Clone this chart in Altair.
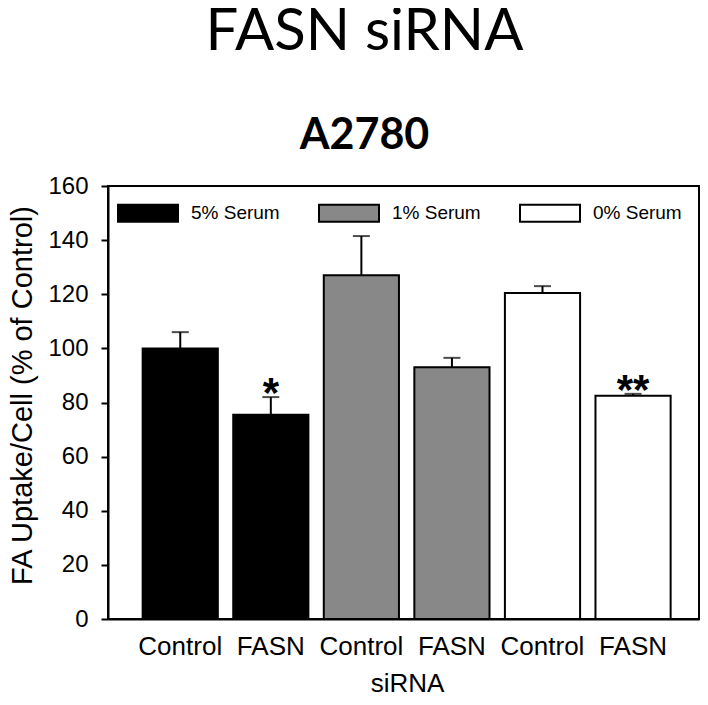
import altair as alt
import pandas as pd

# ---- data ----
sirna = ["Control", "FASN", "Control", "FASN", "Control", "FASN"]
serum = ["5% Serum", "5% Serum", "1% Serum", "1% Serum", "0% Serum", "0% Serum"]
uptake = [100, 75.5, 127, 93, 120.5, 82.5]
sem = [6, 6.5, 14.5, 3.5, 2.5, 0.7]
stars = ["", "*", "", "", "", "**"]

serum_order = ["5% Serum", "1% Serum", "0% Serum"]
serum_colors = ["#000000", "#888888", "#ffffff"]

df = pd.DataFrame({
    "key": [f"{s}|{i}" for i, s in enumerate(sirna)],
    "siRNA": sirna,
    "serum": serum,
    "uptake": uptake,
    "top": [u + e for u, e in zip(uptake, sem)],
    "star": stars,
})
order = list(df["key"])

LABEL_FONT = "Liberation Sans"

x = alt.X("key:N", sort=order,
          scale=alt.Scale(paddingInner=0.17, paddingOuter=0.348, align=0.55),
          axis=alt.Axis(title="siRNA", labelExpr="split(datum.label, '|')[0]",
                        labelAngle=0, ticks=False, labelPadding=14,
                        labelFontSize=26, labelFont=LABEL_FONT, labelColor="black",
                        titleFontSize=26, titleFont=LABEL_FONT, titleFontWeight="normal",
                        titleColor="black", titleX=299, titleY=64, titleBaseline="middle",
                        domainColor="black", domainWidth=2))

y_scale = alt.Scale(domain=[0, 160])

bars = alt.Chart(df).mark_bar(stroke="black", strokeWidth=2).encode(
    x=x,
    y=alt.Y("uptake:Q", scale=y_scale,
            axis=alt.Axis(title="FA Uptake/Cell (% of Control)", values=list(range(0, 161, 20)),
                          grid=False, tickSize=7, tickWidth=2, tickColor="black",
                          labelPadding=13, labelFontSize=24, labelFont=LABEL_FONT,
                          labelColor="black", domainColor="black", domainWidth=2,
                          titleFontSize=29, titleFont=LABEL_FONT, titleFontWeight="normal",
                          titleColor="black", titleX=-86, titleY=209,
                          titleBaseline="middle", titleAlign="center", titleAngle=270)),
    fill=alt.Fill("serum:N", sort=serum_order,
                  scale=alt.Scale(domain=serum_order, range=serum_colors),
                  legend=alt.Legend(title=None, orient="none", legendX=9, legendY=-4,
                                    direction="horizontal", columns=3, padding=0,
                                    symbolType="M-1,-0.283L1,-0.283L1,0.283L-1,0.283Z",
                                    symbolSize=3600, symbolStrokeColor="black",
                                    symbolStrokeWidth=2, symbolOpacity=1,
                                    labelFontSize=19, labelFont=LABEL_FONT,
                                    labelColor="black", labelOffset=12,
                                    columnPadding=35, labelLimit=200)),
)

err = alt.Chart(df).mark_rule(color="black", strokeWidth=2).encode(
    x=alt.X("key:N", sort=order), y="uptake:Q", y2="top:Q")

cap = alt.Chart(df).mark_tick(color="black", thickness=2, size=17).encode(
    x=alt.X("key:N", sort=order), y="top:Q")

star = alt.Chart(df).mark_text(fontSize=42, fontWeight="bold", font=LABEL_FONT,
                               baseline="alphabetic", dy=10, color="black").encode(
    x=alt.X("key:N", sort=order), y="top:Q", text="star:N")

chart = alt.layer(bars, err, cap, star).properties(
    width=591, height=433,
    autosize=alt.AutoSizeParams(type="none"),
    padding={"left": 100, "top": 178, "right": 1, "bottom": 78},
    title=alt.TitleParams(text="FASN siRNA", subtitle="A2780", anchor="middle",
                          font="Lato", fontSize=58, fontWeight="normal", color="black",
                          subtitleFont="Lato", subtitleFontSize=43,
                          subtitleFontWeight="bold", subtitleColor="black",
                          subtitlePadding=53, offset=16, dx=-39),
).configure_view(stroke="black", strokeWidth=2)

chart.save("out.html", embed_options={"renderer": "svg", "actions": False})
